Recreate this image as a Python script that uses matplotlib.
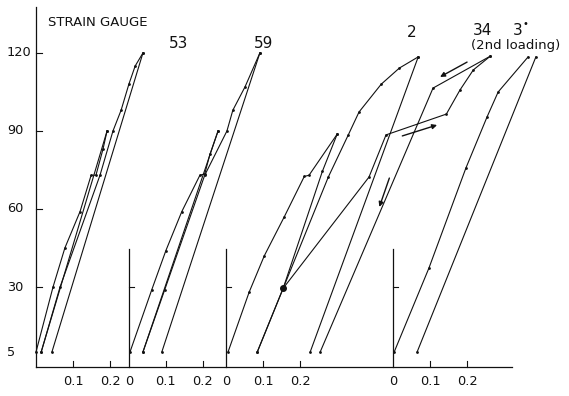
import matplotlib
matplotlib.use("Agg")
import matplotlib.pyplot as plt

# panel origins along the shared strain axis (strain units, 0.1 = one tick)
panel_x0 = [0.0, 0.251, 0.514, 0.965]

# load axis
load_ticks = [120, 90, 60, 30, 5]
load_tick_labels = ["120", "90", "60", "30", "5"]

# gauge 53 (panel 0)
g53_load1_strain = [0.0, 0.046, 0.078, 0.119, 0.149, 0.162, 0.181, 0.192]
g53_load1_load = [5, 30, 45, 59, 73, 73, 83, 90]
g53_unload1_strain = [0.192, 0.014]
g53_unload1_load = [90, 5]
g53_load2_strain = [0.014, 0.065, 0.173, 0.208, 0.230, 0.251, 0.268, 0.289]
g53_load2_load = [5, 30, 73, 90, 98, 108, 115, 120]
g53_unload2_strain = [0.289, 0.043]
g53_unload2_load = [120, 5]

# gauge 59 (panel 1)
g59_load1_strain = [0.003, 0.062, 0.100, 0.143, 0.192, 0.205, 0.219, 0.241]
g59_load1_load = [5, 29, 44, 59, 73, 73.5, 81, 90]
g59_unload1_strain = [0.241, 0.038]
g59_unload1_load = [90, 5]
g59_load2_strain = [0.038, 0.097, 0.205, 0.265, 0.281, 0.314, 0.354]
g59_load2_load = [5, 29, 73, 90, 98, 107, 120]
g59_unload2_strain = [0.354, 0.089]
g59_unload2_load = [120, 5]

# gauge 2 (panel 2)
g2_load1_strain = [0.005, 0.062, 0.103, 0.157, 0.211, 0.224, 0.300]
g2_load1_load = [5, 28, 42, 57, 72.5, 73, 88.8]
g2_unload1_strain = [0.300, 0.260, 0.154, 0.084]
g2_unload1_load = [88.8, 74.5, 29.5, 5]
g2_load2_strain = [0.084, 0.154, 0.276, 0.330, 0.359, 0.419, 0.468, 0.519]
g2_load2_load = [5, 29.5, 72.3, 88.5, 97.3, 108, 114.2, 118.5]
g2_unload2_strain = [0.519, 0.227]
g2_unload2_load = [118.5, 5]

# gauge 34, 2nd loading (drawn on panel 2 scale)
g34_load_strain = [0.154, 0.386, 0.432, 0.595, 0.632, 0.668, 0.714]
g34_load_load = [29.5, 72.3, 88.5, 96.5, 105.8, 113.5, 118.8]
g34_unload_strain = [0.714, 0.559, 0.254]
g34_unload_load = [118.8, 106.5, 5]
g34_arrows = [((0.651, 116.5), (0.578, 110.8)),
              ((0.476, 88.1), (0.570, 92.3)),
              ((0.441, 71.9), (0.414, 60.8))]

# gauge 3* (panel 3)
g3_load_strain = [0.003, 0.097, 0.197, 0.254, 0.284, 0.365]
g3_load_load = [5, 37.3, 75.8, 95.4, 105, 118.5]
g3_unload_strain = [0.386, 0.065]
g3_unload_load = [118.5, 5]

series = [
    (0, g53_load1_strain, g53_load1_load), (0, g53_unload1_strain, g53_unload1_load),
    (0, g53_load2_strain, g53_load2_load), (0, g53_unload2_strain, g53_unload2_load),
    (1, g59_load1_strain, g59_load1_load), (1, g59_unload1_strain, g59_unload1_load),
    (1, g59_load2_strain, g59_load2_load), (1, g59_unload2_strain, g59_unload2_load),
    (2, g2_load1_strain, g2_load1_load), (2, g2_unload1_strain, g2_unload1_load),
    (2, g2_load2_strain, g2_load2_load), (2, g2_unload2_strain, g2_unload2_load),
    (2, g34_load_strain, g34_load_load), (2, g34_unload_strain, g34_unload_load),
    (3, g3_load_strain, g3_load_load), (3, g3_unload_strain, g3_unload_load),
]

x_tick_labels = [["0.1", "0.2"], ["0", "0.1", "0.2"], ["0", "0.1", "0.2"], ["0", "0.1", "0.2"]]

fig = plt.figure(figsize=(5.69, 3.96), dpi=100)
ax = fig.add_axes([0, 0, 1, 1])
ax.set_xlim(-0.0973, 1.4405)
ax.set_ylim(-11.92, 140.38)
ax.axis("off")

ink = "#111111"
base = -0.8

# axes drawn by hand, like the original figure
ax.plot([0, 0], [base, 137.5], color=ink, lw=0.9)
ax.plot([0, 1.286], [base, base], color=ink, lw=0.9)
for t in load_ticks[:-1]:
    ax.plot([0, 0.016], [t, t], color=ink, lw=0.8)
for t, lab in zip(load_ticks, load_tick_labels):
    ax.text(-0.079, t, lab, ha="left", va="center", fontsize=9.3, color=ink)

for i, x0 in enumerate(panel_x0):
    if i > 0:
        ax.plot([x0, x0], [base, 44.5], color=ink, lw=0.9)
        ax.plot([x0, x0 + 0.014], [30, 30], color=ink, lw=0.8)
    for s in (0.1, 0.2):
        ax.plot([x0 + s, x0 + s], [base, base + 2.3], color=ink, lw=0.8)
    labs = x_tick_labels[i]
    pos = [0.1, 0.2] if len(labs) == 2 else [0.0, 0.1, 0.2]
    for s, lab in zip(pos, labs):
        ax.text(x0 + s, -6.5, lab, ha="center", va="center", fontsize=9.3, color=ink)

for p, xs, ys in series:
    gx = [panel_x0[p] + s for s in xs]
    ax.plot(gx, ys, color=ink, lw=0.8, marker="o", markersize=2.0,
            markerfacecolor=ink, markeredgewidth=0)

# big junction dot on panel 2
ax.plot([panel_x0[2] + 0.154], [29.5], "o", color=ink, markersize=4)

for (x1, y1), (x2, y2) in g34_arrows:
    ax.annotate("", xy=(panel_x0[2] + x2, y2), xytext=(panel_x0[2] + x1, y1),
                arrowprops=dict(arrowstyle="-|>", color=ink, lw=1.0,
                                mutation_scale=7, shrinkA=0, shrinkB=0))

ax.text(0.032, 131.9, "STRAIN GAUGE", ha="left", va="center", fontsize=9.5, color=ink)
ax.text(0.384, 123.8, "53", ha="center", va="center", fontsize=11, color=ink)
ax.text(0.616, 123.8, "59", ha="center", va="center", fontsize=11, color=ink)
ax.text(1.016, 127.7, "2", ha="center", va="center", fontsize=11, color=ink)
ax.text(1.208, 128.8, "34", ha="center", va="center", fontsize=11, color=ink)
ax.text(1.302, 128.8, "3", ha="center", va="center", fontsize=11, color=ink)
ax.text(1.324, 131.0, "\u2022", ha="center", va="center", fontsize=7, color=ink)
ax.text(1.295, 122.7, "(2nd loading)", ha="center", va="center", fontsize=9.5, color=ink)

fig.savefig("out.png", dpi=100)
